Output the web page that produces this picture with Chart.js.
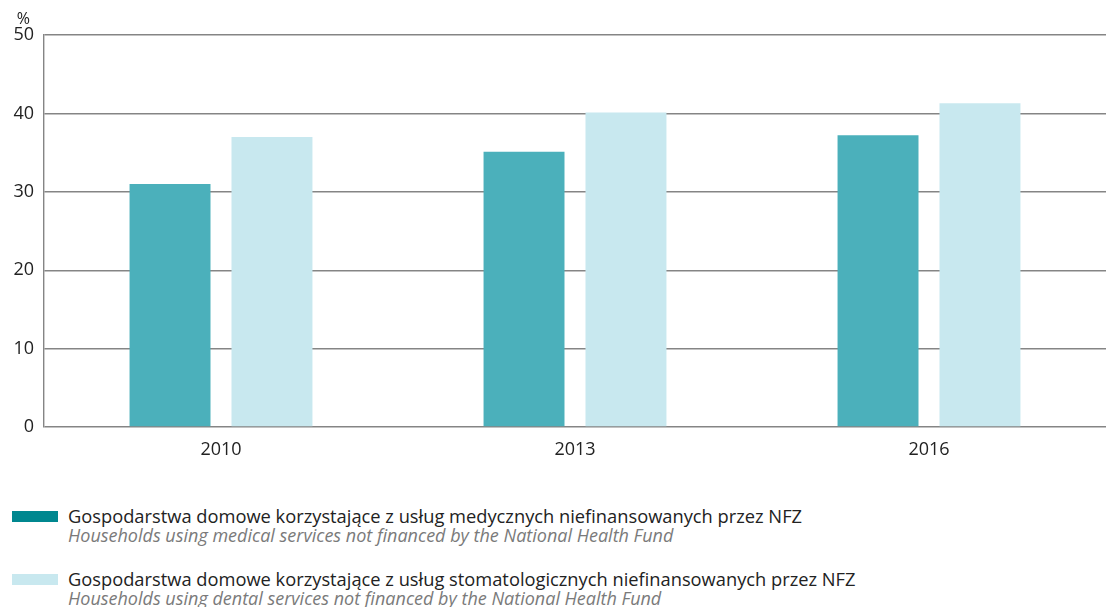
<!DOCTYPE html>
<html lang="pl">
<head>
<meta charset="UTF-8">
<title>Gospodarstwa domowe</title>
<style>
  body { margin: 0; background: #fff; font-family: "Open Sans", sans-serif; color: #222; }
  #wrap { position: relative; width: 1106px; height: 470px; }
  .legend { position: absolute; left: 12px; }
  .sw { position: absolute; left: 0; top: 6px; width: 46px; height: 11px; }
  .pl { position: absolute; left: 56px; top: -2px; font-size: 18.3px; white-space: nowrap; }
  .en { position: absolute; left: 56px; top: 18px; font-size: 18px; font-style: italic; color: #7a7a7a; white-space: nowrap; }
</style>
</head>
<body>
<div id="wrap"><canvas id="myChart"></canvas></div>

<div class="legend" style="top:505px">
  <div class="sw" style="background:#00878f"></div>
  <div class="pl" id="pl1"></div>
  <div class="en" id="en1"></div>
</div>
<div class="legend" style="top:568px">
  <div class="sw" style="background:#c8e8ef"></div>
  <div class="pl" id="pl2"></div>
  <div class="en" id="en2"></div>
</div>

<script src="https://cdnjs.cloudflare.com/ajax/libs/Chart.js/4.4.1/chart.umd.min.js"></script>
<script>
const years = ['2010', '2013', '2016'];
const medical = [31.0, 35.1, 37.2];
const dental = [37.0, 40.1, 41.3];
const medicalPl = 'Gospodarstwa domowe korzystające z usług medycznych niefinansowanych przez NFZ';
const medicalEn = 'Households using medical services not financed by the National Health Fund';
const dentalPl = 'Gospodarstwa domowe korzystające z usług stomatologicznych niefinansowanych przez NFZ';
const dentalEn = 'Households using dental services not financed by the National Health Fund';

document.getElementById('pl1').textContent = medicalPl;
document.getElementById('en1').textContent = medicalEn;
document.getElementById('pl2').textContent = dentalPl;
document.getElementById('en2').textContent = dentalEn;

// "%" above the y axis
const unitLabel = {
  id: 'unitLabel',
  afterDraw(chart) {
    const c = chart.ctx;
    c.save();
    c.font = '16px "Open Sans"';
    c.fillStyle = '#222';
    c.textAlign = 'right';
    c.textBaseline = 'alphabetic';
    c.fillText('%', 30, 24);
    c.restore();
  }
};

const ctx = document.getElementById('myChart').getContext('2d');
const chart = new Chart(ctx, {
  type: 'bar',
  data: {
    labels: years,
    datasets: [
      { label: medicalPl, data: medical, backgroundColor: '#4bb0bb' },
      { label: dentalPl, data: dental, backgroundColor: '#c8e8ef' }
    ]
  },
  options: {
    responsive: true,
    maintainAspectRatio: false,
    animation: false,
    layout: { padding: { top: 35, right: 0, left: 0, bottom: 0 } },
    categoryPercentage: 0.576,
    barPercentage: 0.794,
    plugins: { legend: { display: false }, tooltip: { enabled: false } },
    scales: {
      x: {
        grid: { display: false },
        border: { display: false },
        ticks: { color: '#222', font: { family: 'Open Sans', size: 18 }, padding: 4 },
        afterFit(s) { s.height = 43; }
      },
      y: {
        min: 0, max: 50,
        ticks: { stepSize: 10, color: '#222', font: { family: 'Open Sans', size: 18 }, padding: 10 },
        grid: { color: '#858585', lineWidth: 1.4, drawTicks: false },
        border: { color: '#858585', width: 1.4 },
        afterFit(s) { s.width = 44; }
      }
    }
  },
  plugins: [unitLabel]
});
</script>
</body>
</html>
